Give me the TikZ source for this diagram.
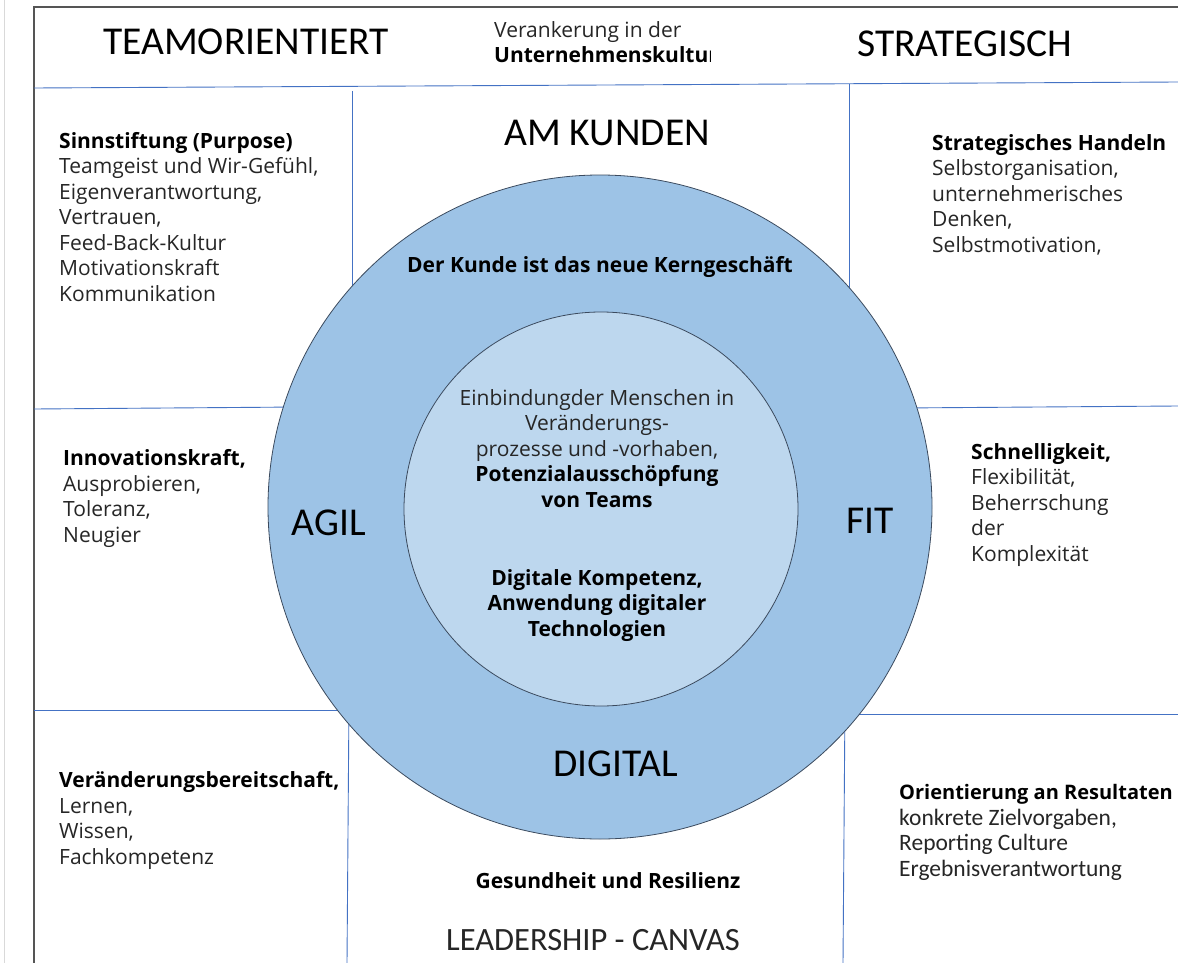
\documentclass[tikz,border=0pt]{standalone}
\usepackage{fontspec}
\setmainfont{Open Sans}
\newfontfamily\calfont{Carlito}
\definecolor{gridblue}{HTML}{4472C4}
\definecolor{ringblue}{HTML}{9DC3E6}
\definecolor{coreblue}{HTML}{BDD7EE}
\definecolor{ringedge}{HTML}{3B4A5E}
\definecolor{txt}{HTML}{262626}
\definecolor{framegray}{HTML}{555555}
\tikzset{
  gridline/.style={draw=gridblue, line width=0.9pt},
  title/.style={font=\calfont\fontsize{39.5}{42}\selectfont, text=black, inner sep=0pt},
  block/.style={font=\fontsize{21}{25.5}\selectfont, text=txt, align=left, inner sep=0pt, anchor=base west},
  cblock/.style={font=\fontsize{21}{25.5}\selectfont, text=txt, align=center, inner sep=0pt, anchor=base},
}
\begin{document}
\begin{tikzpicture}[x=1pt,y=-1pt]
\useasboundingbox (0,0) rectangle (1178,963);
\fill[white] (0,0) rectangle (1178,963);
% screen edge and frame
\draw[black!15, line width=1pt] (4,0) -- (4,963);
\draw[framegray, line width=1.6pt] (34,963) -- (34,7) -- (1178,7);
% grid lines
\draw[gridline] (34,88) -- (1178,82);
\draw[gridline] (352,91) -- (352,300);
\draw[gridline] (849,84) -- (849,300);
\draw[gridline] (34,409) -- (300,407);
\draw[gridline] (900,408) -- (1178,406);
\draw[gridline] (34,710) -- (360,710);
\draw[gridline] (840,714) -- (1178,714);
\draw[gridline] (349,700) -- (347,963);
\draw[gridline] (845,700) -- (843,963);
% circles
\node[circle, draw=ringedge, line width=0.8pt, fill=ringblue, minimum size=664pt, inner sep=0pt] (ring) at (600,507) {};
\node[circle, draw=ringedge, line width=0.8pt, fill=coreblue, minimum size=394pt, inner sep=0pt] (core) at (601,509) {};
% header (multi-line nodes are placed at the baseline of their last line)
\node[title, anchor=base west] (team) at (103,55) {TEAMORIENTIERT};
\node[title, anchor=base west] (strat) at (857,57) {STRATEGISCH};
\begin{scope}
\clip (480,15) rectangle (710,75);
\node[block] (veran) at (494,63) {Verankerung in der\\\textbf{\color{black}Unternehmenskultur}};
\end{scope}
% ring labels
\node[title, anchor=base] (kunden) at (607,146) {AM KUNDEN};
\node[title, anchor=base] (agil) at (329,535) {AGIL};
\node[title, anchor=base] (fit) at (870,533) {FIT};
\node[title, anchor=base] (digital) at (616,776) {DIGITAL};
\node[cblock, font=\bfseries\fontsize{21}{25.5}\selectfont, text=black] (kern) at (600,272) {Der Kunde ist das neue Kerngeschäft};
% core text
\node[cblock] (core1) at (597,507) {Einbindungder Menschen in\\Veränderungs-\\prozesse und -vorhaben,\\\textbf{\color{black}Potenzialausschöpfung}\\\textbf{\color{black}von Teams}};
\node[cblock, font=\bfseries\fontsize{21}{25.5}\selectfont, text=black] (core2) at (597,636) {Digitale Kompetenz,\\Anwendung digitaler\\Technologien};
% corner blocks
\node[block] (purpose) at (59,301) {\textbf{\color{black}Sinnstiftung (Purpose)}\\Teamgeist und Wir-Gefühl,\\Eigenverantwortung,\\Vertrauen,\\Feed-Back-Kultur\\Motivationskraft\\Kommunikation};
\node[block] (handeln) at (932,252) {\textbf{\color{black}Strategisches Handeln}\\Selbstorganisation,\\unternehmerisches\\Denken,\\Selbstmotivation,};
\node[block] (innov) at (63,542) {\textbf{\color{black}Innovationskraft,}\\Ausprobieren,\\Toleranz,\\Neugier};
\node[block] (schnell) at (971,561) {\textbf{\color{black}Schnelligkeit,}\\Flexibilität,\\Beherrschung\\der\\Komplexität};
\node[block] (veraend) at (59,864) {\textbf{\color{black}Veränderungsbereitschaft,}\\Lernen,\\Wissen,\\Fachkompetenz};
\node[block] (result) at (899,876) {{\bfseries\color{black}\fontsize{20}{25.5}\selectfont Orientierung an Resultaten}\\{\calfont\fontsize{23.5}{25.5}\selectfont konkrete Zielvorgaben,}\\{\calfont\fontsize{23.5}{25.5}\selectfont Reporting Culture}\\{\calfont\fontsize{23.5}{25.5}\selectfont Ergebnisverantwortung}};
% bottom
\node[cblock, font=\bfseries\fontsize{21}{25.5}\selectfont, text=black] (gesund) at (608,888) {Gesundheit und Resilienz};
\node[title, anchor=base, font=\calfont\fontsize{32.5}{35}\selectfont, text=txt] (canvas) at (593,950) {LEADERSHIP - CANVAS};
\end{tikzpicture}
\end{document}
